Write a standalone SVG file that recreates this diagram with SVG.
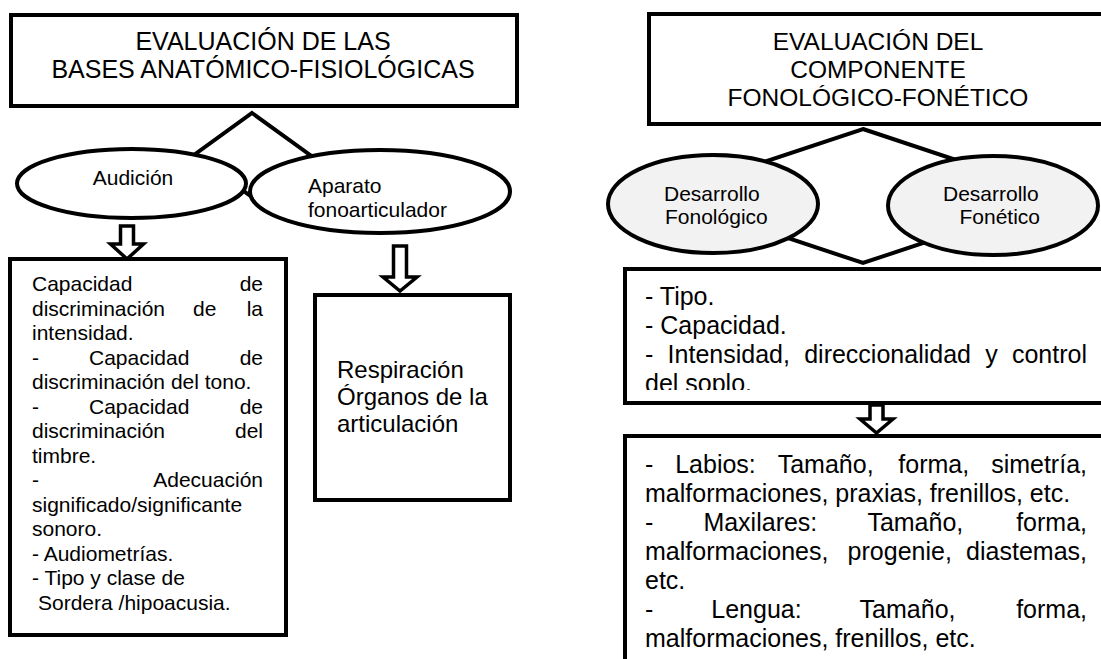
<svg xmlns="http://www.w3.org/2000/svg" width="1101" height="659" viewBox="0 0 1101 659">
<style>
.box{fill:#fff;stroke:#000;stroke-width:4}
.ell{fill:#fff;stroke:#000;stroke-width:4}
.ellg{fill:#f2f2f2;stroke:#000;stroke-width:4}
.dia{fill:none;stroke:#000;stroke-width:4;stroke-linejoin:miter}
.arr{fill:#fff;stroke:#000;stroke-width:3.5;stroke-linejoin:miter}
text{font-family:"Liberation Sans",Arial,sans-serif;fill:#000}
.t25{font-size:25px}
.t245{font-size:24.5px}
.t24{font-size:24px}
.t21{font-size:21px}
.mid{text-anchor:middle}
.end{text-anchor:end}
</style>
<defs>
<clipPath id="clipSoplo"><rect x="627" y="271" width="474" height="119"/></clipPath>
</defs>
<rect width="1101" height="659" fill="#fff"/>

<g id="title-left">
<rect class="box" x="11" y="15" width="506" height="91"/>
<text class="t25 mid" x="263" y="50">EVALUACIÓN DE LAS</text>
<text class="t25 mid" x="263" y="78">BASES ANATÓMICO-FISIOLÓGICAS</text>
</g>

<g id="title-right">
<rect class="box" x="649" y="14" width="480" height="110"/>
<text class="t245 mid" x="878" y="50">EVALUACIÓN DEL</text>
<text class="t245 mid" x="878" y="78">COMPONENTE</text>
<text class="t245 mid" x="878" y="106">FONOLÓGICO-FONÉTICO</text>
</g>

<g id="connectors">
<polygon class="dia" points="252,113 310,155 252,197 194,155"/>
<polygon class="dia" points="863,129 1064,196 863,263 662,196"/>
<path class="arr" d="M120.5,226 H133.5 V244 H143.5 L127,259 L110.5,244 H120.5 Z"/>
<path class="arr" d="M393.5,246 H406.5 V277 H417 L400,291 L383,277 H393.5 Z"/>
<path class="arr" d="M870,405 H883 V419 H893 L876.5,433 L860,419 H870 Z"/>
</g>

<g id="audicion">
<ellipse class="ell" cx="131.5" cy="183.5" rx="114.5" ry="34.5"/>
<text class="t21 mid" x="133" y="185">Audición</text>
</g>

<g id="aparato">
<ellipse class="ell" cx="380" cy="191.5" rx="130" ry="41.5"/>
<text class="t21" x="308" y="193">Aparato</text>
<text class="t21" x="308" y="217">fonoarticulador</text>
</g>

<g id="desarrollo-fonologico">
<ellipse class="ellg" cx="713" cy="204" rx="105" ry="49"/>
<text class="t21" x="664" y="201">Desarrollo</text>
<text class="t21" x="665" y="224">Fonológico</text>
</g>

<g id="desarrollo-fonetico">
<ellipse class="ellg" cx="993" cy="205.5" rx="105" ry="49.5"/>
<text class="t21" x="943" y="201">Desarrollo</text>
<text class="t21" x="959.5" y="224">Fonético</text>
</g>

<g id="audicion-detalle">
<rect class="box" x="10" y="259" width="276" height="376"/>
<text class="t21" x="32" y="291">Capacidad</text>
<text class="t21 end" x="263" y="291">de</text>
<text class="t21" x="32" y="315.5">discriminación</text>
<text class="t21" x="193" y="315.5">de</text>
<text class="t21 end" x="263" y="315.5">la</text>
<text class="t21" x="32" y="340">intensidad.</text>
<text class="t21" x="32" y="364.5">-</text>
<text class="t21" x="89" y="364.5">Capacidad</text>
<text class="t21 end" x="263" y="364.5">de</text>
<text class="t21" x="32" y="389">discriminación del tono.</text>
<text class="t21" x="32" y="413.5">-</text>
<text class="t21" x="89" y="413.5">Capacidad</text>
<text class="t21 end" x="263" y="413.5">de</text>
<text class="t21" x="32" y="438">discriminación</text>
<text class="t21 end" x="263" y="438">del</text>
<text class="t21" x="32" y="462.5">timbre.</text>
<text class="t21" x="32" y="487">-</text>
<text class="t21 end" x="263" y="487">Adecuación</text>
<text class="t21" x="32" y="511.5">significado/significante</text>
<text class="t21" x="32" y="536">sonoro.</text>
<text class="t21" x="32" y="560.5">- Audiometrías.</text>
<text class="t21" x="32" y="585">- Tipo y clase de</text>
<text class="t21" x="38" y="609.5">Sordera /hipoacusia.</text>
</g>

<g id="aparato-detalle">
<rect class="box" x="315" y="295" width="195" height="205"/>
<text class="t24" x="337" y="378">Respiración</text>
<text class="t24" x="337" y="405">Órganos de la</text>
<text class="t24" x="337" y="432">articulación</text>
</g>

<g id="soplo">
<rect class="box" x="625" y="269" width="490" height="134"/>
<g clip-path="url(#clipSoplo)">
<text class="t25" x="645" y="305">- Tipo.</text>
<text class="t25" x="645" y="334">- Capacidad.</text>
<text class="t25" x="645" y="363">-</text>
<text class="t25" x="667.6" y="363">Intensidad,</text>
<text class="t25" x="804.2" y="363">direccionalidad</text>
<text class="t25" x="985.2" y="363">y</text>
<text class="t25 end" x="1087" y="363">control</text>
<text class="t25" x="645" y="392">del soplo.</text>
</g>
</g>

<g id="organos">
<rect class="box" x="625" y="436" width="490" height="240"/>
<text class="t25" x="645" y="473">-</text>
<text class="t25" x="675.2" y="473">Labios:</text>
<text class="t25" x="777.7" y="473">Tamaño,</text>
<text class="t25" x="898.3" y="473">forma,</text>
<text class="t25 end" x="1087" y="473">simetría,</text>
<text class="t25" x="645" y="502">malformaciones, praxias, frenillos, etc.</text>
<text class="t25" x="645" y="531">-</text>
<text class="t25" x="703.4" y="531">Maxilares:</text>
<text class="t25" x="867.4" y="531">Tamaño,</text>
<text class="t25 end" x="1087" y="531">forma,</text>
<text class="t25" x="645" y="560">malformaciones,</text>
<text class="t25" x="847.6" y="560">progenie,</text>
<text class="t25 end" x="1087" y="560">diastemas,</text>
<text class="t25" x="645" y="589">etc.</text>
<text class="t25" x="645" y="618">-</text>
<text class="t25" x="711.3" y="618">Lengua:</text>
<text class="t25" x="859.6" y="618">Tamaño,</text>
<text class="t25 end" x="1087" y="618">forma,</text>
<text class="t25" x="645" y="647">malformaciones, frenillos, etc.</text>
</g>
</svg>
